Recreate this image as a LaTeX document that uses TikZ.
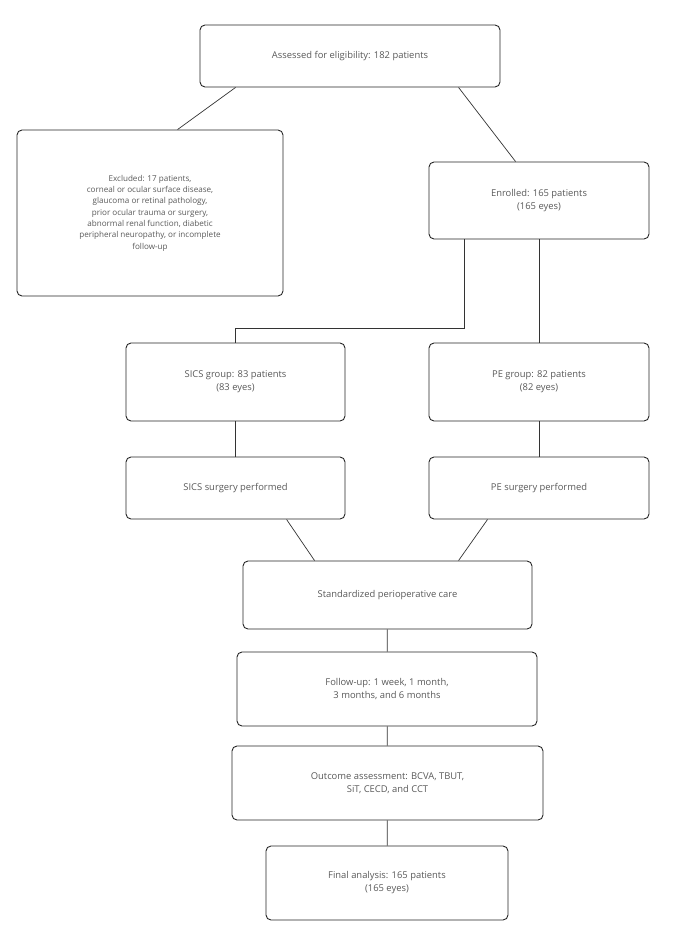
\documentclass[tikz,border=0pt]{standalone}
\usepackage{fontspec}
\setmainfont{Open Sans}
\usetikzlibrary{positioning,calc}

\begin{document}
\begin{tikzpicture}[x=1pt, y=-1pt,
  box/.style={draw=black!85, line width=0.9pt, rounded corners=5pt, align=center, inner sep=0pt,
    text=black!65, font=\fontsize{9.4}{13}\selectfont},
  smallbox/.style={box, font=\fontsize{8.1}{11.3}\selectfont},
  link/.style={draw=black!80, line width=0.7pt}
]
  \useasboundingbox (0,0) rectangle (700,952);

  % Screening
  \node[box, minimum width=300pt, minimum height=62pt] (assess) at (350,56)
    {Assessed for eligibility: 182 patients};
  \node[smallbox, minimum width=266pt, minimum height=166pt] (excl) at (150,213)
    {Excluded: 17 patients,\\corneal or ocular surface disease,\\glaucoma or retinal pathology,\\prior ocular trauma or surgery,\\abnormal renal function, diabetic\\peripheral neuropathy, or incomplete\\follow-up};
  \node[box, minimum width=220pt, minimum height=77pt] (enrol) at (539,200.5)
    {Enrolled: 165 patients\\(165 eyes)};

  % Groups
  \node[box, minimum width=219pt, minimum height=78pt] (sicsgrp) at (235.5,382)
    {SICS group: 83 patients\\(83 eyes)};
  \node[box, minimum width=220pt, minimum height=78pt] (pegrp) at (539,382)
    {PE group: 82 patients\\(82 eyes)};
  \node[box, minimum width=219pt, minimum height=62pt] (sicsop) at (235.5,488)
    {SICS surgery performed};
  \node[box, minimum width=220pt, minimum height=62pt] (peop) at (539,488)
    {PE surgery performed};

  % Common path
  \node[box, minimum width=289pt, minimum height=68pt] (care) at (387.5,595)
    {Standardized perioperative care};
  \node[box, minimum width=300pt, minimum height=74pt] (follow) at (387,689)
    {Follow-up: 1 week, 1 month,\\3 months, and 6 months};
  \node[box, minimum width=311pt, minimum height=74pt] (outcome) at (387.5,783)
    {Outcome assessment: BCVA, TBUT,\\SiT, CECD, and CCT};
  \node[box, minimum width=242pt, minimum height=74pt] (final) at (387,883)
    {Final analysis: 165 patients\\(165 eyes)};

  \draw[link] ([xshift=36pt]assess.south west) -- ([xshift=161pt]excl.north west);
  \draw[link] ([xshift=259pt]assess.south west) -- ([xshift=87pt]enrol.north west);
  \draw[link] ([xshift=36pt]enrol.south west) -- ++(0,89) -| (sicsgrp.north);
  \draw[link] (enrol.south) -- (pegrp.north);
  \draw[link] (sicsgrp) -- (sicsop);
  \draw[link] (pegrp) -- (peop);
  \draw[link] ([xshift=161pt]sicsop.south west) -- ([xshift=72pt]care.north west);
  \draw[link] ([xshift=59pt]peop.south west) -- ([xshift=216pt]care.north west);
  \draw[link] (care) -- (follow);
  \draw[link] (follow) -- (outcome);
  \draw[link] (outcome) -- (final);
\end{tikzpicture}
\end{document}
